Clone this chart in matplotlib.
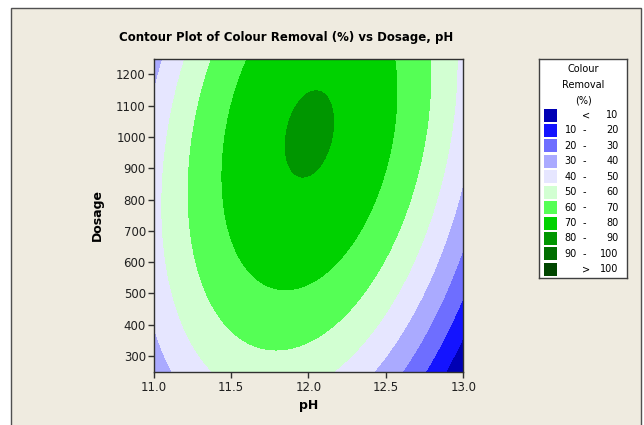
import matplotlib
matplotlib.use("Agg")
import matplotlib.pyplot as plt
import numpy as np
from matplotlib.patches import Rectangle

# contour boundary points: (pH, Dosage, level)
ph_pts = [11.845, 12.168, 12.065, 11.968, 11.882, 12.054,
          11.60, 11.48, 11.449, 11.44, 11.514, 11.589, 11.817, 11.99, 12.24, 12.41, 12.485, 12.571, 12.56,
          11.376, 11.234, 11.225, 11.255, 11.384, 11.589, 11.826, 12.27, 12.549, 12.70, 12.786,
          11.205, 11.066, 11.05, 11.137, 11.363, 12.20, 12.485, 12.733, 12.862, 12.948,
          11.0, 11.061, 11.0, 11.111, 12.44, 12.668, 12.90, 13.0, 12.99,
          12.60, 12.818, 13.0,
          12.766, 12.937, 13.0,
          12.894, 13.0]
dose_pts = [970, 1050, 1141, 864, 1066, 906,
            1251, 1066, 889, 832, 640, 577, 510, 545, 645, 768, 864, 960, 1251,
            1251, 889, 832, 640, 481, 375, 319, 448, 651, 864, 1251,
            1251, 889, 640, 481, 252, 252, 438, 651, 864, 1251,
            1135, 1251, 391, 252, 252, 438, 651, 850, 864,
            252, 438, 630,
            252, 438, 497,
            252, 353]
level_pts = [80] * 6 + [70] * 13 + [60] * 11 + [50] * 10 + [40] * 9 + [30] * 3 + [20] * 3 + [10] * 2

levels = [10, 20, 30, 40, 50, 60, 70, 80, 90, 100]
colours = ["#0000B4", "#1414FF", "#6E6EFF", "#AAAAFF", "#E6E6FF", "#D2FFD2",
           "#55FF55", "#00D200", "#009600", "#006E00", "#004600"]

W, H = 644, 425
BG = "#EFEBE0"


def fit_surface(ph, dose, lvl):
    # full quadratic response surface, like Minitab's fitted model
    u = np.asarray(ph) - 12.0
    w = (np.asarray(dose) - 750.0) / 500.0
    A = np.column_stack([np.ones_like(u), u, w, u * u, w * w, u * w])
    coef, *_ = np.linalg.lstsq(A, np.asarray(lvl, dtype=float), rcond=None)
    return coef


def surface(coef, ph, dose):
    u = ph - 12.0
    w = (dose - 750.0) / 500.0
    return coef[0] + coef[1] * u + coef[2] * w + coef[3] * u * u + coef[4] * w * w + coef[5] * u * w


def main():
    coef = fit_surface(ph_pts, dose_pts, level_pts)
    gx = np.linspace(11.0, 13.0, 300)
    gy = np.linspace(250, 1250, 300)
    X, Y = np.meshgrid(gx, gy)
    Z = surface(coef, X, Y)

    fig = plt.figure(figsize=(W / 100, H / 100), dpi=100, facecolor="white")
    fig.patches.append(Rectangle((10.5 / W, -0.05), 630 / W, 1.05 - 8 / H,
                                 transform=fig.transFigure, facecolor=BG,
                                 edgecolor="#505050", lw=1.0, zorder=-10))

    ax = fig.add_axes([153.5 / W, 53.3 / H, 309.8 / W, 313 / H])
    bounds = [-1e6] + levels + [1e6]
    ax.contourf(X, Y, Z, levels=bounds, colors=colours)
    ax.set_xlim(11.0, 13.0)
    ax.set_ylim(250, 1250)
    ax.set_xticks([11.0, 11.5, 12.0, 12.5, 13.0])
    ax.set_xticklabels(["11.0", "11.5", "12.0", "12.5", "13.0"])
    ax.set_yticks(range(300, 1201, 100))
    ax.tick_params(direction="out", length=4, width=1, color="#303030",
                   labelsize=8.5, labelcolor="#202020")
    ax.tick_params(axis="x", pad=3)
    ax.tick_params(axis="y", pad=1.5)
    for s in ax.spines.values():
        s.set_color("#303030")
        s.set_linewidth(1.0)
    ax.set_xlabel("pH", fontsize=9, fontweight="bold", labelpad=3)
    ax.set_ylabel("Dosage", fontsize=9, fontweight="bold", labelpad=9)

    fig.text(286 / W, 1 - 37 / H, "Contour Plot of Colour Removal (%) vs Dosage, pH",
             ha="center", va="center", fontsize=8.5, fontweight="bold")

    # legend box, drawn in pixel units
    lg = fig.add_axes([539 / W, 1 - 278 / H, 88 / W, 219 / H])
    lg.set_xlim(539, 627)
    lg.set_ylim(278, 59)
    lg.set_xticks([])
    lg.set_yticks([])
    lg.set_facecolor("white")
    for s in lg.spines.values():
        s.set_color("#404040")
        s.set_linewidth(1.0)
    fs = 7
    for i, t in enumerate(["Colour", "Removal", "(%)"]):
        lg.text(583, 69 + 15.7 * i, t, ha="center", va="center", fontsize=fs)
    for i, c in enumerate(colours):
        yc = 115 + 15.43 * i
        lg.add_patch(Rectangle((544, yc - 6.5), 13, 13, facecolor=c, edgecolor="none"))
        if i == 0:
            lg.text(586.5, yc, "<", ha="center", va="center", fontsize=fs)
            lg.text(618.5, yc, str(levels[0]), ha="right", va="center", fontsize=fs)
        elif i == len(colours) - 1:
            lg.text(586.5, yc, ">", ha="center", va="center", fontsize=fs)
            lg.text(618.5, yc, str(levels[-1]), ha="right", va="center", fontsize=fs)
        else:
            lg.text(577, yc, str(levels[i - 1]), ha="right", va="center", fontsize=fs)
            lg.text(584.5, yc, "-", ha="center", va="center", fontsize=fs)
            lg.text(618.5, yc, str(levels[i]), ha="right", va="center", fontsize=fs)

    fig.savefig("out.png", dpi=100, facecolor="white")


if __name__ == '__main__':
    main()
